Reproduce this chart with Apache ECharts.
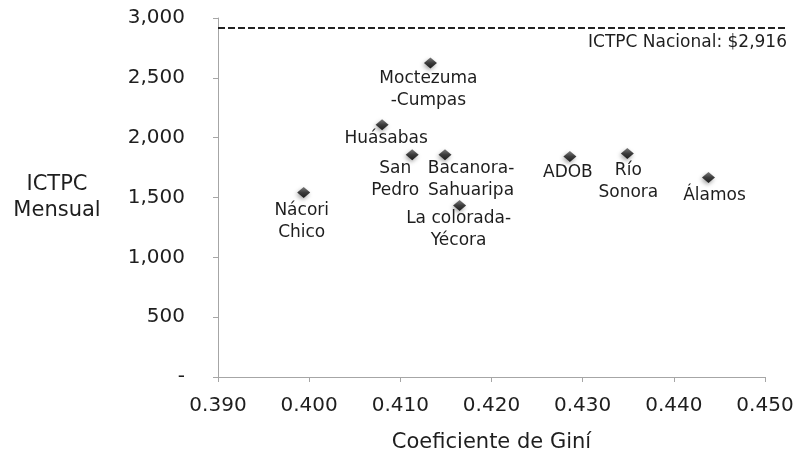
<!DOCTYPE html>
<html>
<head>
<meta charset="utf-8">
<script src="https://cdn.jsdelivr.net/npm/echarts@6/dist/echarts.min.js"></script>
<style>html,body{margin:0;padding:0;background:#fff;}#c{width:794px;height:452px;}</style>
</head>
<body>
<div id="c"></div>
<script>
// Data
const names = ["Nácori\nChico", "Moctezuma\n-Cumpas", "Huásabas", "San\nPedro", "Bacanora-\nSahuaripa", "La colorada-\nYécora", "ADOB", "Río\nSonora", "Álamos"];
const gini = [0.3994, 0.4133, 0.4080, 0.4113, 0.4149, 0.4165, 0.4286, 0.4349, 0.4438];
const ictpc = [1542, 2625, 2108, 1858, 1858, 1433, 1842, 1867, 1667];
const nacional = 2916;
const nacionalLabel = "ICTPC Nacional: $2,916";
const xTicks = [0.390, 0.400, 0.410, 0.420, 0.430, 0.440, 0.450];
const yTicks = [0, 500, 1000, 1500, 2000, 2500, 3000];

// Label placement (style only)
const labelOffsets = [[-2, 2], [-2, -1], [4, -3], [-17, -3], [26, -3], [-1, -3], [-2, 0], [1, 0], [6, 2]];

const FONT = "'DejaVu Sans', sans-serif";
const TXT = '#1e1e1e';

const chart = echarts.init(document.getElementById('c'), null, {renderer: 'canvas'});

const points = names.map((n, i) => ({
  name: n,
  value: [gini[i], ictpc[i]],
  label: {offset: labelOffsets[i]}
}));

chart.setOption({
  animation: false,
  backgroundColor: '#ffffff',
  grid: [
    {left: 218, right: 29, top: 18, bottom: 75, outerBoundsMode: 'none', containLabel: false},
    {left: 218, right: 7, top: 18, bottom: 75, outerBoundsMode: 'none', containLabel: false}
  ],
  xAxis: [{
    type: 'value',
    gridIndex: 0,
    min: xTicks[0], max: xTicks[xTicks.length - 1], interval: 0.01,
    name: 'Coeficiente de Giní',
    nameLocation: 'middle', nameGap: 55,
    nameTextStyle: {fontFamily: FONT, fontSize: 21, color: TXT},
    axisLine: {show: true, lineStyle: {color: '#a6a6a6', width: 1}},
    axisTick: {show: true, length: 5, lineStyle: {color: '#a6a6a6'}},
    axisLabel: {fontFamily: FONT, fontSize: 20, color: TXT, margin: 19, formatter: v => v.toFixed(3)},
    splitLine: {show: false}
  }, {
    type: 'value', gridIndex: 1, min: 0, max: 1, show: false
  }],
  yAxis: [{
    type: 'value',
    gridIndex: 0,
    min: yTicks[0], max: yTicks[yTicks.length - 1], interval: 500,
    name: 'ICTPC\nMensual',
    nameLocation: 'middle', nameGap: 161, nameRotate: 0,
    nameTextStyle: {fontFamily: FONT, fontSize: 21, color: TXT, align: 'center', lineHeight: 26, padding: [8, 0, 0, 0]},
    axisLine: {show: true, lineStyle: {color: '#a6a6a6', width: 1}},
    axisTick: {show: true, length: 5, lineStyle: {color: '#a6a6a6'}},
    axisLabel: {fontFamily: FONT, fontSize: 20, color: TXT, margin: 33,
      formatter: v => v === 0 ? '-' : v.toLocaleString('en-US')},
    splitLine: {show: false}
  }, {
    type: 'value', gridIndex: 1, min: yTicks[0], max: yTicks[yTicks.length - 1], show: false
  }],
  series: [{
    type: 'scatter',
    xAxisIndex: 1, yAxisIndex: 1,
    data: [],
    silent: true,
    markLine: {
      silent: true,
      symbol: 'none',
      lineStyle: {color: '#222', width: 2, type: [7, 3], opacity: 1},
      label: {
        show: true, position: 'insideEndBottom', formatter: nacionalLabel,
        fontFamily: FONT, fontSize: 17, color: TXT, distance: [0, 6]
      },
      data: [{yAxis: nacional}]
    }
  }, {
    type: 'scatter',
    xAxisIndex: 0, yAxisIndex: 0,
    symbol: 'diamond',
    symbolSize: [13, 11],
    itemStyle: {
      opacity: 1,
      color: new echarts.graphic.LinearGradient(0, 0, 0, 1, [
        {offset: 0, color: '#7a7a7a'}, {offset: 0.5, color: '#3c3c3c'}, {offset: 1, color: '#1c1c1c'}
      ]),
      shadowColor: 'rgba(0,0,0,0.35)', shadowBlur: 4, shadowOffsetX: -1, shadowOffsetY: 2
    },
    label: {
      show: true, position: 'bottom', distance: 0,
      formatter: p => p.name,
      fontFamily: FONT, fontSize: 17, lineHeight: 22, color: TXT, align: 'center'
    },
    data: points
  }]
});
</script>
</body>
</html>
